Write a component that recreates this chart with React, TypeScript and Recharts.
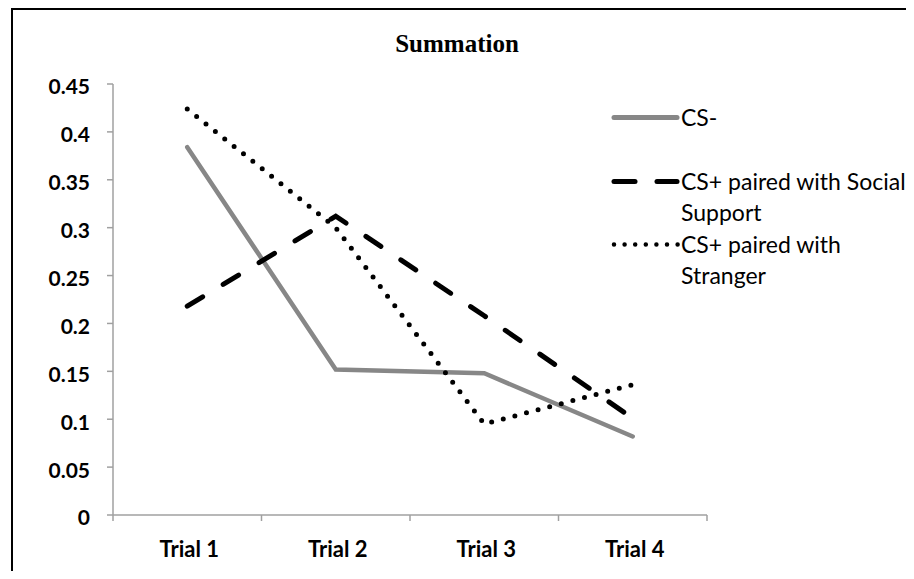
import React from 'react';
import { LineChart, Line, XAxis, YAxis } from 'recharts';

const categories = ['Trial 1', 'Trial 2', 'Trial 3', 'Trial 4'];
const csMinus = [0.384, 0.152, 0.148, 0.082];
const socialSupport = [0.218, 0.312, 0.208, 0.101];
const stranger = [0.424, 0.3, 0.095, 0.136];
const yTicks = [0, 0.05, 0.1, 0.15, 0.2, 0.25, 0.3, 0.35, 0.4, 0.45];
const xBoundaries = [0.5, 1.5, 2.5, 3.5, 4.5];
const seriesNames = ['CS-', 'CS+ paired with Social Support', 'CS+ paired with Stranger'];
const title = 'Summation';

const data = categories.map((c, i) => ({
  x: i + 1,
  name: c,
  csMinus: csMinus[i],
  social: socialSupport[i],
  stranger: stranger[i],
}));

const xTickValues = [...xBoundaries, ...categories.map((_, i) => i + 1)].sort((a, b) => a - b);

const AXIS = '#a0a0a0';
const GRAY = '#878787';

const XTick = (props: any) => {
  const { x, y, payload } = props;
  const v = payload.value;
  if (Number.isInteger(v)) {
    return (
      <text x={x + 2} y={y + 42} textAnchor="middle" fontFamily="Lato" fontWeight="bold" fontSize={22} fill="#000">
        {categories[v - 1]}
      </text>
    );
  }
  return <line x1={x} y1={y} x2={x} y2={y + 6} stroke={AXIS} strokeWidth={1.5} />;
};

const YTick = (props: any) => {
  const { x, y, payload } = props;
  return (
    <text x={x} y={y + 3} dy="0.355em" textAnchor="end" fontFamily="Lato" fontWeight="bold" fontSize={21} fill="#000">
      {String(payload.value)}
    </text>
  );
};

const swatches = [
  <line key="a" x1={3} y1={15.5} x2={66} y2={15.5} stroke={GRAY} strokeWidth={5} strokeLinecap="round" />,
  <g key="b">
    <line x1={3} y1={15.5} x2={24} y2={15.5} stroke="#000" strokeWidth={5} strokeLinecap="round" />
    <line x1={46} y1={15.5} x2={66} y2={15.5} stroke="#000" strokeWidth={5} strokeLinecap="round" />
  </g>,
  <line key="c" x1={3} y1={15.5} x2={67} y2={15.5} stroke="#000" strokeWidth={4.5} strokeLinecap="round" strokeDasharray="0 10.6" />,
];

const legendTops = [92, 156, 219];

export default function App() {
  return (
    <div
      style={{
        position: 'relative',
        width: 903,
        height: 563,
        marginLeft: 3,
        borderTop: '2px solid #000',
        borderLeft: '2px solid #000',
        boxSizing: 'border-box',
      }}
    >
      <div
        style={{
          position: 'absolute',
          left: 294,
          width: 300,
          top: 19,
          textAlign: 'center',
          fontFamily: '"Liberation Serif"',
          fontWeight: 'bold',
          fontSize: 25,
          lineHeight: '30px',
        }}
      >
        {title}
      </div>
      <div style={{ position: 'absolute', left: 0, top: 0 }}>
        <LineChart width={880} height={555} data={data} margin={{ top: 74, right: 186, bottom: 0, left: 0 }}>
          <XAxis
            dataKey="x"
            type="number"
            domain={[0.5, 4.5]}
            ticks={xTickValues}
            interval={0}
            tick={<XTick />}
            tickLine={false}
            tickSize={0}
            tickMargin={0}
            height={50}
            axisLine={{ stroke: AXIS, strokeWidth: 1.5 }}
          />
          <YAxis
            type="number"
            domain={[0, 0.45]}
            ticks={yTicks}
            interval={0}
            width={100}
            tick={<YTick />}
            tickSize={6}
            tickMargin={17}
            tickLine={{ stroke: AXIS, strokeWidth: 1.5 }}
            axisLine={{ stroke: AXIS, strokeWidth: 1.5 }}
          />
          <Line type="linear" dataKey="csMinus" stroke={GRAY} strokeWidth={4.5} dot={false} isAnimationActive={false} strokeLinecap="round" />
          <Line type="linear" dataKey="social" stroke="#000" strokeWidth={5} strokeDasharray="18 24" strokeLinecap="round" dot={false} isAnimationActive={false} />
          <Line type="linear" dataKey="stranger" stroke="#000" strokeWidth={5} strokeDasharray="0 12" strokeLinecap="round" dot={false} isAnimationActive={false} />
        </LineChart>
      </div>
      {seriesNames.map((name, i) => (
        <div key={name} style={{ position: 'absolute', left: 598, top: legendTops[i], display: 'flex', alignItems: 'flex-start' }}>
          <svg width={70} height={31} style={{ display: 'block', flex: 'none' }}>
            {swatches[i]}
          </svg>
          <div style={{ width: 234, fontFamily: 'Lato', fontSize: 23, lineHeight: '31px', color: '#000' }}>{name}</div>
        </div>
      ))}
    </div>
  );
}
